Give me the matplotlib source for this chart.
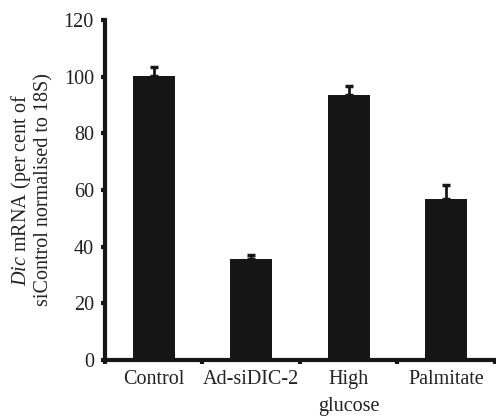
import matplotlib
matplotlib.use("Agg")

import matplotlib.pyplot as plt

categories = ["Control", "Ad-siDIC-2", "High\nglucose", "Palmitate"]
values = [100.2, 35.6, 93.5, 56.8]
errors = [3.2, 1.5, 3.2, 5.0]
yticks = [0, 20, 40, 60, 80, 100, 120]

plt.rcParams["font.family"] = ["Liberation Serif", "DejaVu Serif"]
plt.rcParams["mathtext.fontset"] = "custom"
plt.rcParams["mathtext.rm"] = "Liberation Serif"
plt.rcParams["mathtext.it"] = "Liberation Serif:italic"

fs = 14.5
color = "#161616"
text_color = "#222222"

fig = plt.figure(figsize=(4.96, 4.19), dpi=100)
ax = fig.add_axes([0.2117, 0.1408, 0.786, 0.8115])

x = range(len(categories))
ax.bar(x, values, width=0.43, color=color, zorder=2)
ax.errorbar(x, values, yerr=[[0] * len(errors), errors], fmt="none",
            ecolor=color, elinewidth=2, capsize=3, capthick=2.5, zorder=3)

ax.set_xlim(-0.5, len(categories) - 0.5)
ax.set_ylim(0, 120)
ax.set_yticks(yticks)
ax.set_xticks([i - 0.5 for i in range(len(categories) + 1)])
ax.set_xticklabels([])
ax.set_xticks(list(x), minor=True)
labels = ax.set_xticklabels(categories, minor=True, fontsize=fs, color=text_color)
for lab in labels:
    lab.set_linespacing(1.6)
ax.tick_params(axis="x", which="minor", length=0, pad=7)
ax.tick_params(axis="x", which="major", direction="out", length=3, width=3, color=color)
ax.tick_params(axis="y", direction="out", length=3, width=3, color=color,
               labelsize=fs, labelcolor=text_color, pad=5)

for side in ["top", "right"]:
    ax.spines[side].set_visible(False)
for side in ["left", "bottom"]:
    ax.spines[side].set_linewidth(3)
    ax.spines[side].set_color(color)

ax.set_ylabel("$\\it{Dic}$ mRNA (per cent of\nsiControl normalised to 18S)",
              fontsize=fs, color=text_color, labelpad=7, linespacing=1.1)

fig.savefig("out.png", dpi=100)
